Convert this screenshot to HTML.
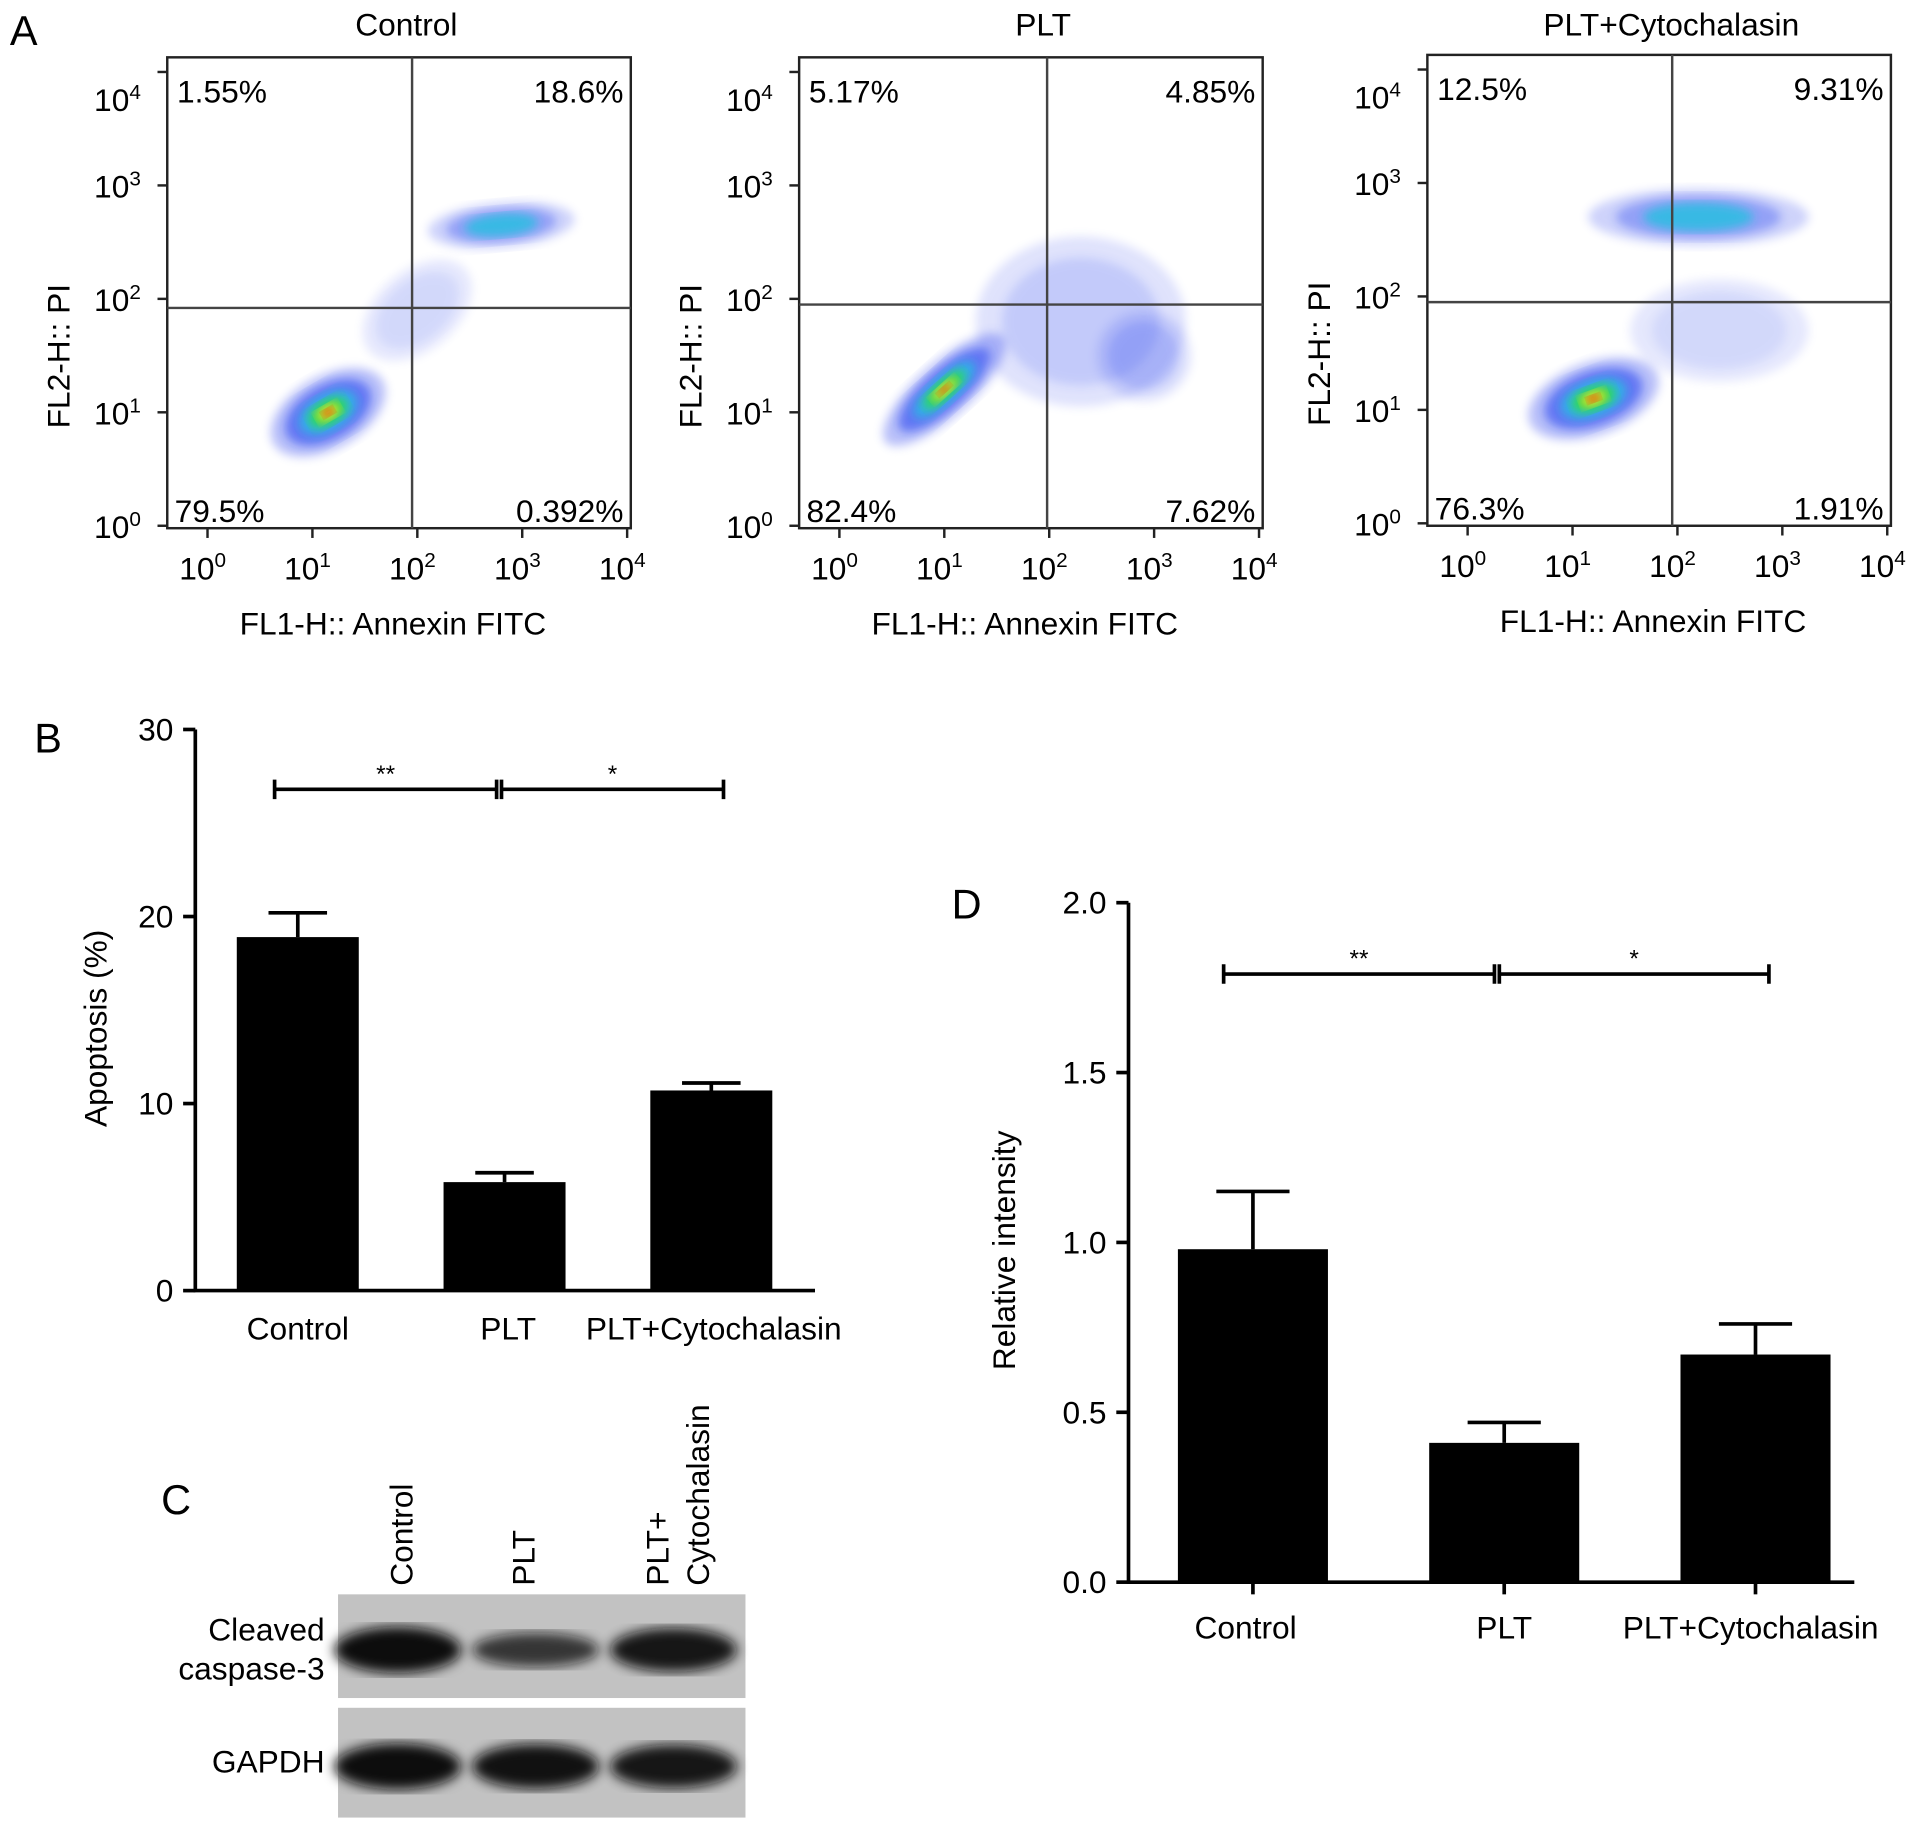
<!DOCTYPE html>
<html><head><meta charset="utf-8"><style>
html,body{margin:0;padding:0;background:#fff}
svg{display:block;font-family:"Liberation Sans",Arial,sans-serif}
</style></head><body>
<svg id="fig" width="1913" height="1831" viewBox="0 0 1568 1501" xmlns="http://www.w3.org/2000/svg">
<defs>
<filter id="blur4"><feGaussianBlur stdDeviation="4"/></filter>
<filter id="blur6"><feGaussianBlur stdDeviation="5"/></filter>
</defs>
<text x="8" y="37" font-size="34">A</text>
<text x="28" y="617" font-size="34">B</text>
<text x="132" y="1241" font-size="34">C</text>
<text x="780" y="753" font-size="34">D</text>
<g id="flow"></g>
<g id="chartB"></g>
<g id="chartD"></g>
<g id="blot"></g>
</svg>
<script>
const NS="http://www.w3.org/2000/svg";
function mk(parent,tag,attrs,text){const e=document.createElementNS(NS,tag);for(const k in attrs)e.setAttribute(k,attrs[k]);if(text!==undefined)e.textContent=text;parent.appendChild(e);return e;}

// ---------- Panel A data ----------
const flowTitles=["Control","PLT","PLT+Cytochalasin"];
const flowQuadrants=[["1.55%","18.6%","79.5%","0.392%"],["5.17%","4.85%","82.4%","7.62%"],["12.5%","9.31%","76.3%","1.91%"]];
const flowGateX=[1.95,1.98,1.95];
const flowGateY=[1.92,1.95,1.95];
// clusters: [cx(log), cy(log), sx, sy, rotation deg, intensity 0-1]
const flowClusters=[
 [[1.15,1.0,0.6,0.32,-30,1.0],[2.8,2.65,0.7,0.2,-5,0.6],[2.0,1.9,0.6,0.35,-40,0.15]],
 [[1.0,1.2,0.75,0.24,-42,1.0],[2.3,1.8,1.0,0.75,0,0.25],[2.9,1.5,0.45,0.4,0,0.3]],
 [[1.2,1.1,0.65,0.32,-20,1.0],[2.2,2.7,1.05,0.25,0,0.6],[2.4,1.7,0.85,0.45,0,0.15]]
];
const flowTicks=["0","1","2","3","4"];
const flowBoxes=[[137,47],[655,47],[1170,45]];

const gF=document.getElementById('flow');
flowBoxes.forEach((b,i)=>{
 const [x0,y0]=b, W=380, H=386;
 const xs=v=>x0+33+v*86, ys=v=>y0+H-2-v*93;
 const g=mk(gF,'g',{});
 
 
 const t=mk(g,'text',{x:x0+W/2+(i==0?6:10),y:29,'font-size':26,'text-anchor':'middle'},flowTitles[i]);
  
 flowClusters[i].forEach(c=>{
  const [cx,cy,sx,sy,rot,it]=c; const px=xs(cx),py=ys(cy),rx=sx*86,ry=sy*93;
  const layers=[[1,'#5060f0',0.3*it+0.1],[0.75,'#1a3cf0',0.55*it],[0.5,'#20c0e0',it>0.5?0.8:0],[0.33,'#30e040',it>0.7?0.9:0],[0.2,'#f0e020',it>0.9?0.9:0],[0.1,'#f02010',it>0.9?0.9:0]];
  layers.forEach(l=>{ if(l[2]<=0)return;
   const e=mk(g,'ellipse',{cx:px,cy:py,rx:rx*l[0],ry:ry*l[0],fill:l[1],opacity:l[2],filter:'url(#blur4)',transform:`rotate(${rot} ${px} ${py})`});
    
  });
 });
 const fr=mk(g,'rect',{x:x0,y:y0,width:W,height:H,fill:'none',stroke:'#222','stroke-width':2});
  
 const gx=xs(flowGateX[i]), gy=ys(flowGateY[i]);
 const vl=mk(g,'line',{x1:gx,x2:gx,y1:y0,y2:y0+H,stroke:'#444','stroke-width':2});
  
 const hl=mk(g,'line',{x1:x0,x2:x0+W,y1:gy,y2:gy,stroke:'#444','stroke-width':2});
  
 const q=flowQuadrants[i];
 const pos=[[x0+8,y0+37,'start'],[x0+W-6,y0+37,'end'],[x0+6,y0+H-5,'start'],[x0+W-6,y0+H-5,'end']];
 q.forEach((s,k)=>{const tq=mk(g,'text',{x:pos[k][0],y:pos[k][1],'font-size':26,'text-anchor':pos[k][2]},s);
   });
 flowTicks.forEach((d,k)=>{
  const tx=mk(g,'text',{x:xs(k)-4,y:y0+H+42,'font-size':26,'text-anchor':'middle'});
   
  tx.innerHTML='10<tspan dy="-10" font-size="17">'+d+'</tspan>';
  const ty=mk(g,'text',{x:x0-60,y:ys(k)+10+(k==4?22:0),'font-size':26});
   
  ty.innerHTML='10<tspan dy="-10" font-size="17">'+d+'</tspan>';
  mk(g,'line',{x1:xs(k),x2:xs(k),y1:y0+H,y2:y0+H+8,stroke:'#222','stroke-width':2});
  mk(g,'line',{x1:x0-8,x2:x0,y1:ys(k),y2:ys(k),stroke:'#222','stroke-width':2});
 });
 const xt=mk(g,'text',{x:x0+W/2-5,y:y0+H+87,'font-size':26,'text-anchor':'middle'},'FL1-H:: Annexin FITC');
  
 const yt=mk(g,'text',{x:0,y:0,'font-size':26,'text-anchor':'middle',transform:`translate(${x0-80},${y0+H/2+52}) rotate(-90)`},'FL2-H:: PI');
  
});

// ---------- Panel B data ----------
const bCategories=["Control","PLT","PLT+Cytochalasin"];
const bValues=[18.9,5.8,10.7];
const bErrors=[1.3,0.5,0.4];
const bTicks=[0,10,20,30];
// ---------- Panel D data ----------
const dCategories=["Control","PLT","PLT+Cytochalasin"];
const dValues=[0.98,0.41,0.67];
const dErrors=[0.17,0.06,0.09];
const dTicks=["0.0","0.5","1.0","1.5","2.0"];

function barChart(gid,cfg){
 const g=document.getElementById(gid);
 const ys=v=>cfg.y0-(v/cfg.max)*(cfg.y0-cfg.y1);
 const ax=mk(g,'path',{d:`M${cfg.x0} ${cfg.y1} V${cfg.y0} H${cfg.xEnd}`,fill:'none',stroke:'#000','stroke-width':3});
  
 cfg.ticks.forEach(t=>{const v=parseFloat(t);
  mk(g,'line',{x1:cfg.x0-10,x2:cfg.x0,y1:ys(v),y2:ys(v),stroke:'#000','stroke-width':3});
  const l=mk(g,'text',{x:cfg.x0-18,y:ys(v)+9,'font-size':26,'text-anchor':'end'},t);
   
 });
 cfg.cats.forEach((c,i)=>{
  const cx=cfg.first+i*cfg.step, v=cfg.vals[i], e=cfg.errs[i];
  const top=ys(v+e);
  const el=mk(g,'path',{d:`M${cx} ${ys(v)} V${top} M${cx-cfg.capW} ${top} H${cx+cfg.capW}`,stroke:'#000','stroke-width':3,fill:'none'});
   
  const r=mk(g,'rect',{x:cx-cfg.bw/2,y:ys(v),width:cfg.bw,height:ys(0)-ys(v),fill:'#000'});
   
  if(cfg.xticks) mk(g,'line',{x1:cx,x2:cx,y1:cfg.y0,y2:cfg.y0+10,stroke:'#000','stroke-width':3});
  const l=mk(g,'text',{x:cx+cfg.labOff[i],y:cfg.y0+cfg.labDy,'font-size':26,'text-anchor':'middle'},c);
   
 });
 const yt=mk(g,'text',{'font-size':26,'text-anchor':'middle',transform:`translate(${cfg.titleX},${cfg.titleY}) rotate(-90)`},cfg.title);
  
 cfg.sig.forEach(s=>{
  const y=ys(s[2]);
  const p=mk(g,'path',{d:`M${s[0]} ${y-8} V${y+8} M${s[0]} ${y} H${s[1]} M${s[1]} ${y-8} V${y+8}`,stroke:'#000','stroke-width':3,fill:'none'});
   
  const t=mk(g,'text',{x:(s[0]+s[1])/2,y:y-6,'font-size':20,'text-anchor':'middle'},s[3]);
   
 });
}
barChart('chartB',{x0:160,xEnd:668,y0:1058,y1:598,max:30,ticks:bTicks.map(String),cats:bCategories,vals:bValues,errs:bErrors,
 first:244,step:169.5,bw:100,capW:24,xticks:false,labOff:[0,3,2],labDy:40,title:'Apoptosis (%)',titleX:87,titleY:843,
 sig:[[225,407,26.8,'**'],[411,593,26.8,'*']]});
barChart('chartD',{x0:925,xEnd:1520,y0:1297,y1:740,max:2,ticks:dTicks,cats:dCategories,vals:dValues,errs:dErrors,
 first:1027,step:206,bw:123,capW:30,xticks:true,labOff:[-6,0,-4],labDy:46,title:'Relative intensity',titleX:832,titleY:1025,
 sig:[[1003,1225,1.79,'**'],[1229,1450,1.79,'*']]});

// ---------- Panel C ----------
const blotLanes=["Control","PLT","PLT+|Cytochalasin"];
const blotCaspase=[1.0,0.55,0.9];
const blotGapdh=[1.0,0.95,0.9];
const gB=document.getElementById('blot');
[[1307,85,blotCaspase,'caspase-blot'],[1400,90,blotGapdh,'gapdh-blot']].forEach(r=>{
 const bg=mk(gB,'rect',{x:277,y:r[0],width:334,height:r[1],fill:'#c2c2c2'});
  
 r[2].forEach((v,i)=>{const cx=326+i*113;
  const e=mk(gB,'ellipse',{cx:cx,cy:r[0]+r[1]/2+3,rx:52,ry:8+11*v,fill:'#111',opacity:0.5+0.5*v,filter:'url(#blur6)'});
   });
});
[['Cleaved',1345],['caspase-3',1377],['GAPDH',1453]].forEach(a=>{
 const t=mk(gB,'text',{x:266,y:a[1],'font-size':26,'text-anchor':'end'},a[0]);
  });
blotLanes.forEach((l,i)=>{const parts=l.split('|');
 parts.forEach((p,k)=>{const x=338+i*100+k*33;
  const t=mk(gB,'text',{'font-size':26,transform:`translate(${x+(i==2?10:0)},1300) rotate(-90)`},p);
   });
});
</script>
</body></html>
